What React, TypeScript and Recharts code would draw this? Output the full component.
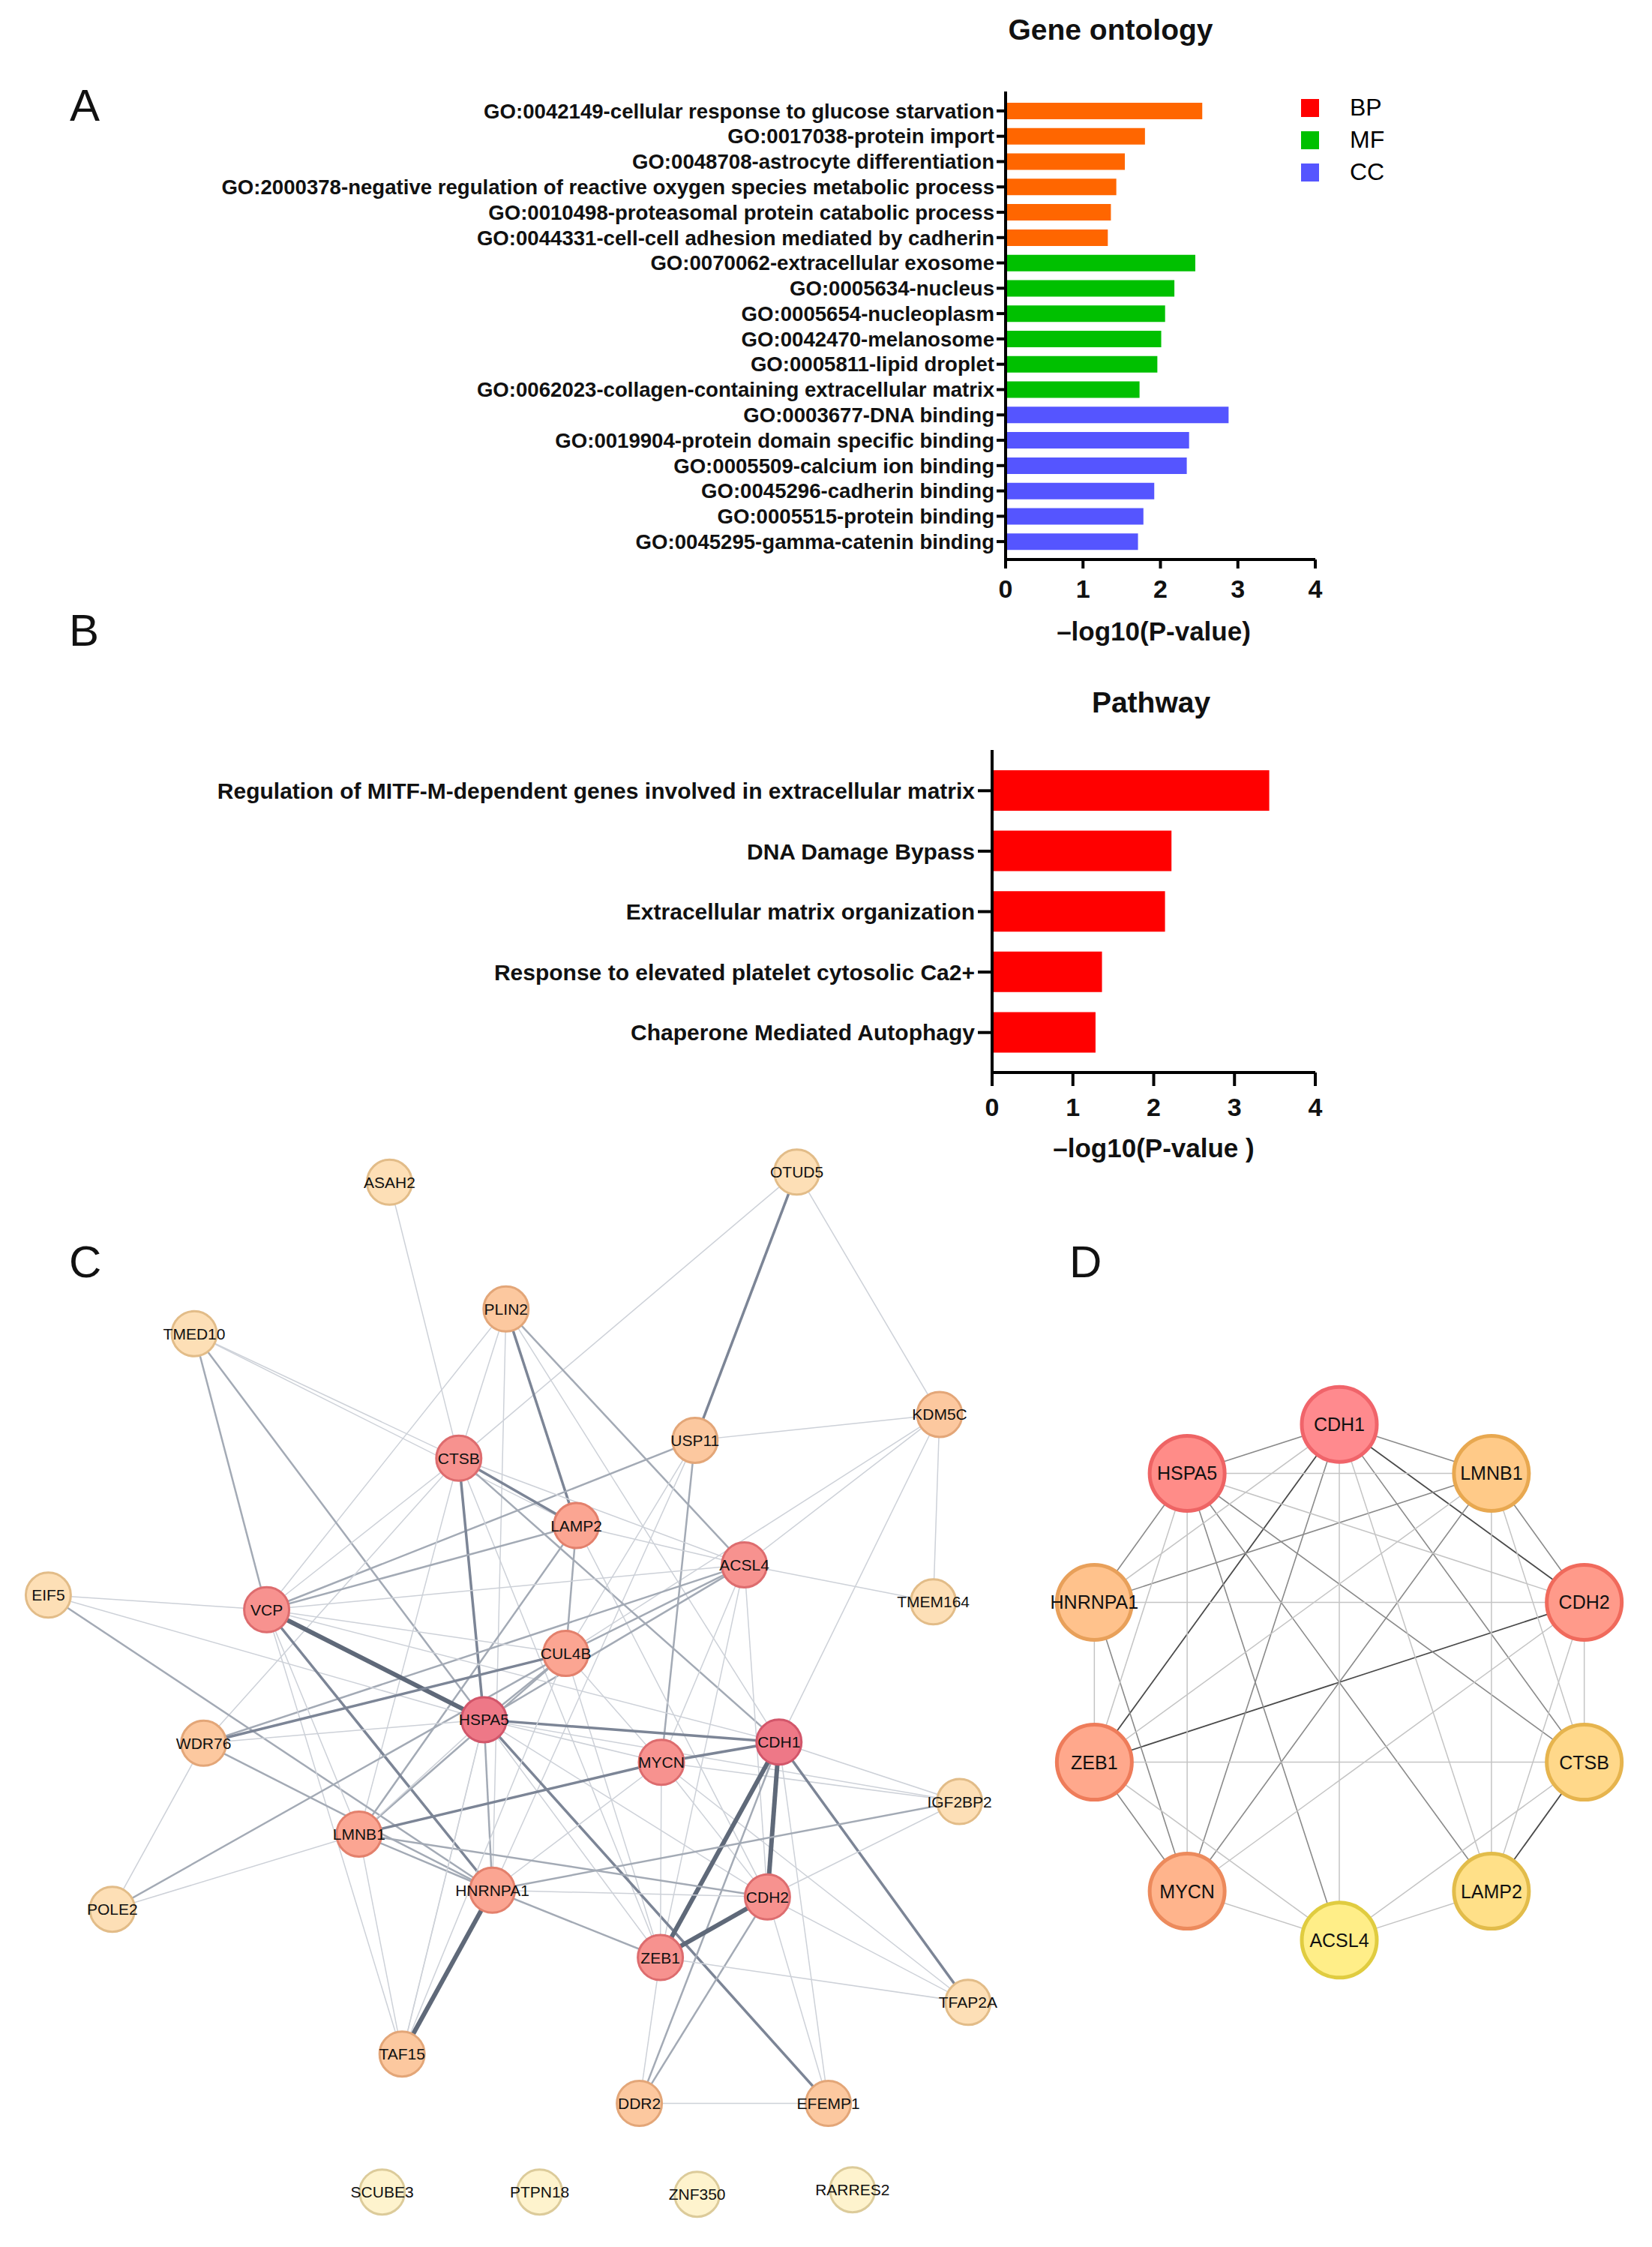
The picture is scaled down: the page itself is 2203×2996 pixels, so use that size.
import React from 'react';
import { BarChart, Bar, XAxis, YAxis, Cell, Legend, ScatterChart, Scatter } from 'recharts';

const FONT = '"Liberation Sans", Arial, Helvetica, sans-serif';

// ---------- A: Gene ontology ----------
const goTerms = [
  'GO:0042149-cellular response to glucose starvation',
  'GO:0017038-protein import',
  'GO:0048708-astrocyte differentiation',
  'GO:2000378-negative regulation of reactive oxygen species metabolic process',
  'GO:0010498-proteasomal protein catabolic process',
  'GO:0044331-cell-cell adhesion mediated by cadherin',
  'GO:0070062-extracellular exosome',
  'GO:0005634-nucleus',
  'GO:0005654-nucleoplasm',
  'GO:0042470-melanosome',
  'GO:0005811-lipid droplet',
  'GO:0062023-collagen-containing extracellular matrix',
  'GO:0003677-DNA binding',
  'GO:0019904-protein domain specific binding',
  'GO:0005509-calcium ion binding',
  'GO:0045296-cadherin binding',
  'GO:0005515-protein binding',
  'GO:0045295-gamma-catenin binding',
];
const goValues = [2.54, 1.8, 1.54, 1.43, 1.36, 1.32, 2.45, 2.18, 2.06, 2.01, 1.96, 1.73, 2.88, 2.37, 2.34, 1.92, 1.78, 1.71];
const goGroups = ['BP', 'BP', 'BP', 'BP', 'BP', 'BP', 'MF', 'MF', 'MF', 'MF', 'MF', 'MF', 'CC', 'CC', 'CC', 'CC', 'CC', 'CC'];
const barColors: Record<string, string> = { BP: '#FF6600', MF: '#00C000', CC: '#5555FF' };
const legendItems = [
  { name: 'BP', color: '#FF0000' },
  { name: 'MF', color: '#00C000' },
  { name: 'CC', color: '#5555FF' },
];
const xTicks = [0, 1, 2, 3, 4];

// ---------- B: Pathway ----------
const pathwayTerms = [
  'Regulation of MITF-M-dependent genes involved in extracellular matrix',
  'DNA Damage Bypass',
  'Extracellular matrix organization',
  'Response to elevated platelet cytosolic Ca2+',
  'Chaperone Mediated Autophagy',
];
const pathwayValues = [3.43, 2.22, 2.14, 1.36, 1.28];

// ---------- C: PPI network (layout coords 0-100) ----------
const netNodes = [
  { name: 'ASAH2', x: 37.1, y: 94.9, level: 1 },
  { name: 'OTUD5', x: 75.9, y: 95.8, level: 1 },
  { name: 'PLIN2', x: 48.2, y: 83.6, level: 2 },
  { name: 'TMED10', x: 18.5, y: 81.4, level: 1 },
  { name: 'KDM5C', x: 89.5, y: 74.2, level: 2 },
  { name: 'USP11', x: 66.2, y: 71.9, level: 2 },
  { name: 'CTSB', x: 43.7, y: 70.3, level: 4 },
  { name: 'LAMP2', x: 54.9, y: 64.3, level: 3 },
  { name: 'ACSL4', x: 70.9, y: 60.8, level: 4 },
  { name: 'EIF5', x: 4.6, y: 58.1, level: 1 },
  { name: 'VCP', x: 25.4, y: 56.8, level: 4 },
  { name: 'TMEM164', x: 88.9, y: 57.5, level: 1 },
  { name: 'CUL4B', x: 53.9, y: 52.9, level: 3 },
  { name: 'HSPA5', x: 46.1, y: 47.0, level: 5 },
  { name: 'WDR76', x: 19.4, y: 44.9, level: 2 },
  { name: 'MYCN', x: 63.0, y: 43.2, level: 4 },
  { name: 'CDH1', x: 74.2, y: 45.0, level: 5 },
  { name: 'IGF2BP2', x: 91.4, y: 39.7, level: 1 },
  { name: 'LMNB1', x: 34.2, y: 36.8, level: 3 },
  { name: 'HNRNPA1', x: 46.9, y: 31.8, level: 3 },
  { name: 'CDH2', x: 73.1, y: 31.2, level: 4 },
  { name: 'POLE2', x: 10.7, y: 30.1, level: 1 },
  { name: 'ZEB1', x: 62.9, y: 25.8, level: 4 },
  { name: 'TFAP2A', x: 92.2, y: 21.8, level: 1 },
  { name: 'TAF15', x: 38.3, y: 17.2, level: 2 },
  { name: 'DDR2', x: 60.9, y: 12.8, level: 2 },
  { name: 'EFEMP1', x: 78.9, y: 12.8, level: 2 },
  { name: 'SCUBE3', x: 36.4, y: 4.9, level: 0 },
  { name: 'PTPN18', x: 51.4, y: 4.9, level: 0 },
  { name: 'ZNF350', x: 66.4, y: 4.7, level: 0 },
  { name: 'RARRES2', x: 81.2, y: 5.1, level: 0 },
];

// [source, target, weight 1..4]
const netEdges: [string, string, number][] = [
  ['OTUD5', 'USP11', 3], ['OTUD5', 'KDM5C', 1], ['OTUD5', 'CTSB', 1], ['ASAH2', 'CTSB', 1],
  ['PLIN2', 'LAMP2', 3], ['PLIN2', 'CTSB', 1], ['PLIN2', 'VCP', 1], ['PLIN2', 'HNRNPA1', 1],
  ['PLIN2', 'ACSL4', 2], ['PLIN2', 'CDH1', 1], ['TMED10', 'CTSB', 1], ['TMED10', 'LAMP2', 1],
  ['TMED10', 'VCP', 2], ['TMED10', 'HSPA5', 2], ['KDM5C', 'USP11', 1], ['KDM5C', 'TMEM164', 1],
  ['KDM5C', 'CUL4B', 1], ['KDM5C', 'ACSL4', 1], ['KDM5C', 'CDH1', 1], ['USP11', 'VCP', 2],
  ['USP11', 'MYCN', 2], ['USP11', 'CUL4B', 1], ['USP11', 'HNRNPA1', 1], ['CTSB', 'LAMP2', 3],
  ['CTSB', 'HSPA5', 3], ['CTSB', 'ACSL4', 1], ['CTSB', 'CDH1', 2], ['CTSB', 'VCP', 1],
  ['CTSB', 'WDR76', 1], ['CTSB', 'LMNB1', 1], ['CTSB', 'ZEB1', 1], ['LAMP2', 'VCP', 2],
  ['LAMP2', 'CUL4B', 2], ['LAMP2', 'ACSL4', 1], ['LAMP2', 'LMNB1', 2], ['LAMP2', 'CDH2', 1],
  ['ACSL4', 'VCP', 1], ['ACSL4', 'CUL4B', 2], ['ACSL4', 'WDR76', 2], ['ACSL4', 'TMEM164', 1],
  ['ACSL4', 'HSPA5', 2], ['ACSL4', 'MYCN', 1], ['ACSL4', 'ZEB1', 1], ['ACSL4', 'CDH2', 1],
  ['EIF5', 'VCP', 1], ['EIF5', 'HSPA5', 1], ['EIF5', 'HNRNPA1', 2], ['VCP', 'HSPA5', 4],
  ['VCP', 'HNRNPA1', 3], ['VCP', 'CUL4B', 1], ['VCP', 'LMNB1', 1], ['VCP', 'TAF15', 1],
  ['VCP', 'CDH1', 1], ['CUL4B', 'HSPA5', 2], ['CUL4B', 'WDR76', 3], ['CUL4B', 'POLE2', 2],
  ['CUL4B', 'LMNB1', 2], ['CUL4B', 'MYCN', 1], ['CUL4B', 'ZEB1', 1], ['HSPA5', 'CDH1', 3],
  ['HSPA5', 'MYCN', 1], ['HSPA5', 'HNRNPA1', 2], ['HSPA5', 'EFEMP1', 3], ['HSPA5', 'WDR76', 1],
  ['HSPA5', 'LMNB1', 1], ['HSPA5', 'ZEB1', 1], ['HSPA5', 'CDH2', 1], ['HSPA5', 'TAF15', 1],
  ['HSPA5', 'IGF2BP2', 1], ['WDR76', 'POLE2', 1], ['WDR76', 'HNRNPA1', 2], ['MYCN', 'CDH1', 3],
  ['MYCN', 'LMNB1', 3], ['MYCN', 'ZEB1', 1], ['MYCN', 'CDH2', 1], ['MYCN', 'HNRNPA1', 1],
  ['MYCN', 'IGF2BP2', 1], ['MYCN', 'TFAP2A', 1], ['CDH1', 'ZEB1', 4], ['CDH1', 'CDH2', 4],
  ['CDH1', 'TFAP2A', 3], ['CDH1', 'DDR2', 2], ['CDH1', 'IGF2BP2', 1], ['CDH1', 'EFEMP1', 1],
  ['LMNB1', 'CDH2', 2], ['LMNB1', 'HNRNPA1', 2], ['LMNB1', 'TAF15', 1], ['HNRNPA1', 'TAF15', 4],
  ['HNRNPA1', 'IGF2BP2', 2], ['HNRNPA1', 'CDH2', 1], ['HNRNPA1', 'ZEB1', 2], ['CDH2', 'ZEB1', 4],
  ['CDH2', 'DDR2', 2], ['CDH2', 'TFAP2A', 1], ['CDH2', 'IGF2BP2', 1], ['CDH2', 'EFEMP1', 1],
  ['ZEB1', 'TFAP2A', 1], ['ZEB1', 'DDR2', 1], ['DDR2', 'EFEMP1', 1], ['TAF15', 'CUL4B', 1],
  ['TAF15', 'HSPA5', 1], ['POLE2', 'LMNB1', 1],
];

const levelStyles = [
  { fill: '#FEF3CD', stroke: '#DCCB9A' },
  { fill: '#FDDFB6', stroke: '#E2BC88' },
  { fill: '#FCC89F', stroke: '#E3A678' },
  { fill: '#FBA592', stroke: '#E3806C' },
  { fill: '#F7928F', stroke: '#DD6C6E' },
  { fill: '#EE7887', stroke: '#D2566A' },
];
const edgeStyles = [
  null,
  { stroke: '#CDD1D8', width: 1.5 },
  { stroke: '#A3AAB5', width: 2.5 },
  { stroke: '#7C8596', width: 3.5 },
  { stroke: '#5F6979', width: 6 },
];

// ---------- D: hub genes ----------
const hubNodes = [
  { name: 'CDH1', x: 0, y: 1.0, fill: '#FF8A8E', stroke: '#F0646A' },
  { name: 'LMNB1', x: 0.59, y: 0.81, fill: '#FFCA88', stroke: '#E8A850' },
  { name: 'CDH2', x: 0.95, y: 0.31, fill: '#FF9A8A', stroke: '#F06A5C' },
  { name: 'CTSB', x: 0.95, y: -0.31, fill: '#FFD88A', stroke: '#E6B44E' },
  { name: 'LAMP2', x: 0.59, y: -0.81, fill: '#FFE088', stroke: '#E2BC4A' },
  { name: 'ACSL4', x: 0, y: -1.0, fill: '#FFEE88', stroke: '#E0CC40' },
  { name: 'MYCN', x: -0.59, y: -0.81, fill: '#FFB48C', stroke: '#EC8A5C' },
  { name: 'ZEB1', x: -0.95, y: -0.31, fill: '#FFA88C', stroke: '#EE7C5A' },
  { name: 'HNRNPA1', x: -0.95, y: 0.31, fill: '#FFC28C', stroke: '#E8A05A' },
  { name: 'HSPA5', x: -0.59, y: 0.81, fill: '#FF8C88', stroke: '#EE6464' },
];
const hubEdges: [string, string, number][] = [
  ['CDH1', 'CDH2', 3], ['CDH1', 'ZEB1', 3], ['ZEB1', 'CDH2', 3], ['CTSB', 'LAMP2', 3],
  ['CDH1', 'HSPA5', 2], ['CDH1', 'LMNB1', 2], ['CDH1', 'MYCN', 2], ['CDH1', 'CTSB', 2],
  ['HSPA5', 'HNRNPA1', 2], ['HSPA5', 'ACSL4', 2], ['HSPA5', 'LAMP2', 2], ['HSPA5', 'CTSB', 2],
  ['LMNB1', 'MYCN', 2], ['HNRNPA1', 'MYCN', 2], ['ZEB1', 'MYCN', 2], ['LMNB1', 'CDH2', 2],
  ['LMNB1', 'HNRNPA1', 2],
  ['CDH1', 'ACSL4', 1], ['CDH1', 'LAMP2', 1], ['CDH1', 'HNRNPA1', 1], ['HSPA5', 'LMNB1', 1],
  ['HSPA5', 'ZEB1', 1], ['HSPA5', 'MYCN', 1], ['HSPA5', 'CDH2', 1], ['LMNB1', 'ZEB1', 1],
  ['LMNB1', 'LAMP2', 1], ['LMNB1', 'CTSB', 1], ['HNRNPA1', 'CDH2', 1], ['HNRNPA1', 'ZEB1', 1],
  ['ZEB1', 'CTSB', 1], ['ZEB1', 'ACSL4', 1], ['MYCN', 'ACSL4', 1], ['MYCN', 'CDH2', 1],
  ['CDH2', 'CTSB', 1], ['CDH2', 'LAMP2', 1], ['CTSB', 'ACSL4', 1], ['LAMP2', 'ACSL4', 1],
];
const hubEdgeStyles = [null, { stroke: '#C4C4C4', width: 1.5 }, { stroke: '#8A8A8A', width: 1.6 }, { stroke: '#4A4A4A', width: 1.8 }];

const goData = goTerms.map((term, i) => ({ term, value: goValues[i], group: goGroups[i] }));
const pathwayData = pathwayTerms.map((term, i) => ({ term, value: pathwayValues[i] }));

const EmptyShape = () => <g />;

const NetNode = (props: any) => {
  const { cx, cy, payload } = props;
  const st = levelStyles[payload.level];
  return (
    <g>
      <circle cx={cx} cy={cy} r={30} fill={st.fill} stroke={st.stroke} strokeWidth={3} />
      <text x={cx} y={cy} textAnchor="middle" dominantBaseline="central" fontSize={21} fontFamily={FONT} fill="#111">
        {payload.name}
      </text>
    </g>
  );
};

const HubNode = (props: any) => {
  const { cx, cy, payload } = props;
  return (
    <g>
      <circle cx={cx} cy={cy} r={50} fill={payload.fill} stroke={payload.stroke} strokeWidth={5} />
      <text x={cx} y={cy} textAnchor="middle" dominantBaseline="central" fontSize={25} fontFamily={FONT} fill="#111">
        {payload.name}
      </text>
    </g>
  );
};

const GoLegend = () => (
  <div style={{ fontFamily: FONT }}>
    {legendItems.map((it) => (
      <div key={it.name} style={{ display: 'flex', alignItems: 'center', height: 43 }}>
        <div style={{ width: 24, height: 24, background: it.color }} />
        <span style={{ marginLeft: 41, fontSize: 32, color: '#000' }}>{it.name}</span>
      </div>
    ))}
  </div>
);

const findNode = (list: any[], name: string) => list.find((n) => n.name === name);

export default function App() {
  const axisLine = { stroke: '#000', strokeWidth: 4 };
  const xTick = { fontSize: 34, fontWeight: 700, fill: '#111', fontFamily: FONT };
  return (
    <div style={{ position: 'absolute', left: 0, top: 0, width: 2203, height: 2996, background: '#fff', fontFamily: FONT }}>
      {/* A */}
      <div style={{ position: 'absolute', left: 0, top: 0 }}>
        <BarChart width={2203} height={880} data={goData} layout="vertical" margin={{ top: 122, right: 449, bottom: 14, left: 0 }}>
          <XAxis
            type="number"
            domain={[0, 4]}
            ticks={xTicks}
            height={120}
            tickSize={12}
            tickMargin={15}
            axisLine={axisLine}
            tickLine={axisLine}
            tick={xTick}
            label={{ value: '–log10(P-value)', position: 'insideBottom', offset: 12, dx: -9, fontSize: 35, fontWeight: 700, fill: '#111', fontFamily: FONT }}
          />
          <YAxis
            type="category"
            dataKey="term"
            width={1341}
            interval={0}
            tickSize={12}
            tickMargin={3}
            padding={{ top: 9, bottom: 7 }}
            axisLine={axisLine}
            tickLine={axisLine}
            tick={{ fontSize: 27.6, fontWeight: 700, fill: '#111', fontFamily: FONT }}
          />
          <Legend layout="vertical" align="center" verticalAlign="middle" content={GoLegend} wrapperStyle={{ left: 1735, top: 122, width: 220, height: 130 }} />
          <Bar dataKey="value" barSize={22} isAnimationActive={false}>
            {goData.map((d, i) => (
              <Cell key={i} fill={barColors[d.group]} />
            ))}
          </Bar>
        </BarChart>
      </div>

      {/* B */}
      <div style={{ position: 'absolute', left: 0, top: 880 }}>
        <BarChart width={2203} height={720} data={pathwayData} layout="vertical" margin={{ top: 120, right: 449, bottom: 50, left: 0 }}>
          <XAxis
            type="number"
            domain={[0, 4]}
            ticks={xTicks}
            height={120}
            tickSize={18}
            tickMargin={16}
            axisLine={axisLine}
            tickLine={axisLine}
            tick={xTick}
            label={{ value: '–log10(P-value )', position: 'insideBottom', offset: 7, fontSize: 35, fontWeight: 700, fill: '#111', fontFamily: FONT }}
          />
          <YAxis
            type="category"
            dataKey="term"
            width={1323}
            interval={0}
            tickSize={19}
            tickMargin={4}
            padding={{ top: 14, bottom: 13 }}
            axisLine={axisLine}
            tickLine={axisLine}
            tick={{ fontSize: 30, fontWeight: 700, fill: '#111', fontFamily: FONT }}
          />
          <Bar dataKey="value" barSize={54} fill="#FF0000" isAnimationActive={false} />
        </BarChart>
      </div>

      {/* C */}
      <div style={{ position: 'absolute', left: 0, top: 1500 }}>
        <ScatterChart width={1400} height={1496} margin={{ top: 0, right: 0, bottom: 0, left: 0 }}>
          <XAxis type="number" dataKey="x" domain={[0, 100]} hide />
          <YAxis type="number" dataKey="y" domain={[0, 100]} hide />
          {netEdges.map(([a, b, w], i) => {
            const s = findNode(netNodes, a);
            const t = findNode(netNodes, b);
            const st = edgeStyles[w]!;
            return (
              <Scatter
                key={'e' + i}
                data={[{ x: s.x, y: s.y }, { x: t.x, y: t.y }]}
                line={{ stroke: st.stroke, strokeWidth: st.width }}
                shape={EmptyShape}
                isAnimationActive={false}
              />
            );
          })}
          <Scatter data={netNodes} shape={NetNode} isAnimationActive={false} />
        </ScatterChart>
      </div>

      {/* D */}
      <div style={{ position: 'absolute', left: 1339, top: 1796 }}>
        <ScatterChart width={894} height={894} margin={{ top: 0, right: 0, bottom: 0, left: 0 }}>
          <XAxis type="number" dataKey="x" domain={[-1.3, 1.3]} hide />
          <YAxis type="number" dataKey="y" domain={[-1.3, 1.3]} hide />
          {hubEdges.map(([a, b, w], i) => {
            const s = findNode(hubNodes, a);
            const t = findNode(hubNodes, b);
            const st = hubEdgeStyles[w]!;
            return (
              <Scatter
                key={'h' + i}
                data={[{ x: s.x, y: s.y }, { x: t.x, y: t.y }]}
                line={{ stroke: st.stroke, strokeWidth: st.width }}
                shape={EmptyShape}
                isAnimationActive={false}
              />
            );
          })}
          <Scatter data={hubNodes} shape={HubNode} isAnimationActive={false} />
        </ScatterChart>
      </div>

      {/* titles and panel letters */}
      <svg width={2203} height={2996} style={{ position: 'absolute', left: 0, top: 0, pointerEvents: 'none' }}>
        <g fontFamily={FONT} fill="#111">
          <text x={1481} y={53} textAnchor="middle" fontSize={39} fontWeight={700}>Gene ontology</text>
          <text x={1535} y={950} textAnchor="middle" fontSize={39} fontWeight={700}>Pathway</text>
          <text x={93} y={161} fontSize={60}>A</text>
          <text x={92} y={861} fontSize={60}>B</text>
          <text x={92} y={1703} fontSize={60}>C</text>
          <text x={1426} y={1703} fontSize={60}>D</text>
        </g>
      </svg>
    </div>
  );
}
